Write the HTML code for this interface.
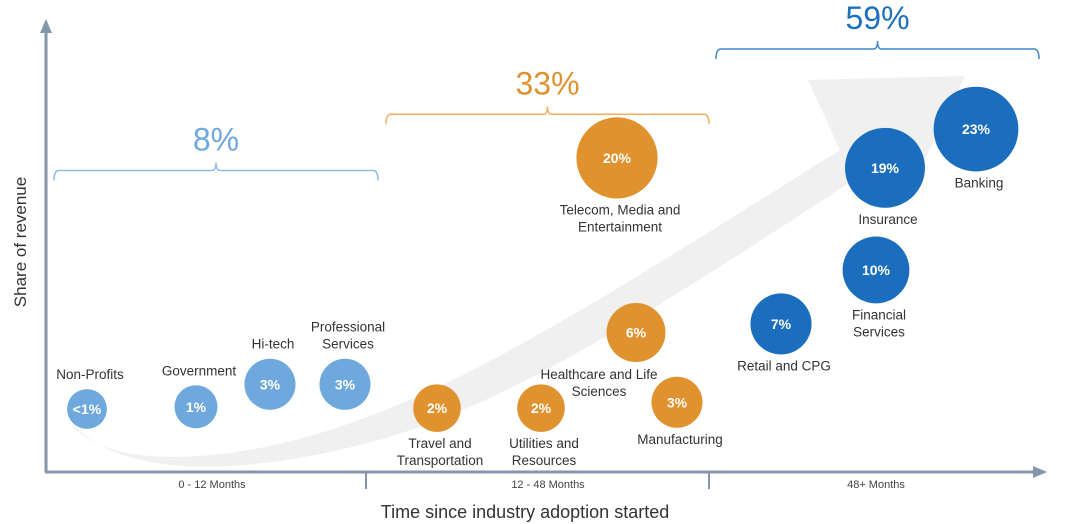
<!DOCTYPE html>
<html><head><meta charset="utf-8">
<style>
html,body{margin:0;padding:0;background:#fff;}
svg{display:block;font-family:"Liberation Sans",sans-serif;}
</style></head>
<body>
<svg id="chart" width="1080" height="524" viewBox="0 0 1080 524" xmlns="http://www.w3.org/2000/svg">
  <g id="bg">
    <path d="M68,420 C100,470 220,465 330,430 C470,385 600,300 840,150 L808,80 L965,76 L905,200 L872,168 C640,320 500,410 360,445 C240,475 120,480 68,420 Z" fill="#f0f0f0"/>
  </g>
  <g>
    <line x1="46" y1="472" x2="46" y2="32" stroke="#8497a8" stroke-width="3"/>
    <polygon points="46,19 40,33 52,33" fill="#8497a8"/>
  </g>
  <g>
    <line x1="45" y1="472" x2="1034" y2="472" stroke="#8497a8" stroke-width="3"/>
    <polygon points="1047,472 1033,466 1033,478" fill="#8497a8"/>
    <line x1="366" y1="472" x2="366" y2="489" stroke="#8497a8" stroke-width="2"/>
    <line x1="709" y1="472" x2="709" y2="489" stroke="#8497a8" stroke-width="2"/>
  </g>
  <text transform="translate(26,242) rotate(-90)" text-anchor="middle" font-size="17" fill="#333">Share of revenue</text>
  <text x="525" y="518" text-anchor="middle" font-size="18" fill="#333">Time since industry adoption started</text>
  <g id="ticks"></g>
  <g id="braces"></g>
  <g id="bubbles"></g>
</svg>
<script>
const tickLabels = ["0 - 12 Months", "12 - 48 Months", "48+ Months"];
const tickPos = [16.6, 50.2, 83];
const groupTotals = ["8%", "33%", "59%"];
const groupStart = [0.8, 34, 67];
const groupEnd = [33.2, 66.3, 99.3];
const groupLevel = [67, 79.5, 94];
const groupColors = ["#8ebde6", "#f0b060", "#3f88cf"];
const groupText = ["#6fa8dc", "#e0922f", "#1f6fbf"];

const industries = ["Non-Profits","Government","Hi-tech","Professional Services","Travel and Transportation","Utilities and Resources","Healthcare and Life Sciences","Manufacturing","Telecom, Media and Entertainment","Retail and CPG","Financial Services","Insurance","Banking"];
const shareLabels = ["<1%","1%","3%","3%","2%","2%","6%","3%","20%","7%","10%","19%","23%"];
const shareValues = [0.5,1,3,3,2,2,6,3,20,7,10,19,23];
const timeValues = [4.1,15,22.4,29.9,39.1,49.5,59,63.1,57.1,73.5,83,83.9,93];
const heightValues = [14,14.5,19.5,19.5,14.2,14.2,31,15.5,69.8,32.9,44.9,67.6,76.2];
const groupOf = [0,0,0,0,1,1,1,1,1,2,2,2,2];
const labelSide = ["above","above","above","above","below","below","above","below","below","below","below","below","below"];

const bubbleFill = ["#6fa8dc","#e0922f","#1a6ebd"];
const NS = "http://www.w3.org/2000/svg";
function xScale(v){ return 46 + v*10; }
function yScale(v){ return 472 - v*4.5; }
function rScale(v){ return 16 + 5.5*Math.sqrt(v); }
function mk(tag, attrs, parent){ const e=document.createElementNS(NS,tag); for(const k in attrs) e.setAttribute(k,attrs[k]); parent.appendChild(e); return e; }

const ticksG = document.getElementById('ticks');
tickLabels.forEach((t,i)=>{
  const el = mk('text',{x:xScale(tickPos[i]),y:488,'text-anchor':'middle','font-size':'11',fill:'#444'},ticksG);
  
  
  el.textContent = t;
});

const bracesG = document.getElementById('braces');
groupTotals.forEach((t,i)=>{
  const x1=xScale(groupStart[i]), x2=xScale(groupEnd[i]), y=yScale(groupLevel[i]), xm=(x1+x2)/2;
  const p = mk('path',{d:`M${x1},${y+10} Q${x1},${y} ${x1+5},${y} L${xm-4},${y} Q${xm},${y} ${xm},${y-8} Q${xm},${y} ${xm+4},${y} L${x2-5},${y} Q${x2},${y} ${x2},${y+10}`,fill:'none',stroke:groupColors[i],'stroke-width':'1.5'},bracesG);
  
  
  const tx = mk('text',{x:xm,y:y-20,'text-anchor':'middle','font-size':'32',fill:groupText[i]},bracesG);
  
  
  tx.textContent = t;
});

const bubG = document.getElementById('bubbles');
industries.forEach((name,i)=>{
  const cx=xScale(timeValues[i]), cy=yScale(heightValues[i]), r=rScale(shareValues[i]);
  const c = mk('circle',{cx:cx,cy:cy,r:r,fill:bubbleFill[groupOf[i]]},bubG);
  
  
  const v = mk('text',{x:cx,y:cy+5,'text-anchor':'middle','font-size':'14','font-weight':'bold',fill:'#fff'},bubG);
  
  
  v.textContent = shareLabels[i];
  let lines;
  if(name==="Professional Services") lines=["Professional","Services"];
  else if(name==="Travel and Transportation") lines=["Travel and","Transportation"];
  else if(name==="Utilities and Resources") lines=["Utilities and","Resources"];
  else if(name==="Healthcare and Life Sciences") lines=["Healthcare and Life","Sciences"];
  else if(name==="Telecom, Media and Entertainment") lines=["Telecom, Media and","Entertainment"];
  else if(name==="Financial Services") lines=["Financial","Services"];
  else lines=[name];
  let lx=cx, y0;
  if(name==="Healthcare and Life Sciences"){ lx=cx-40; y0=cy+r+17; }
  else if(labelSide[i]==="above"){ y0=cy-r-10-(lines.length-1)*17; }
  else { y0=cy+r+16; }
  lines.forEach((ln,j)=>{
    const t = mk('text',{x:lx+3,y:y0+j*17,'text-anchor':'middle','font-size':'13.5',fill:'#333'},bubG);
    
    
    t.textContent = ln;
  });
});
</script>
</body></html>
